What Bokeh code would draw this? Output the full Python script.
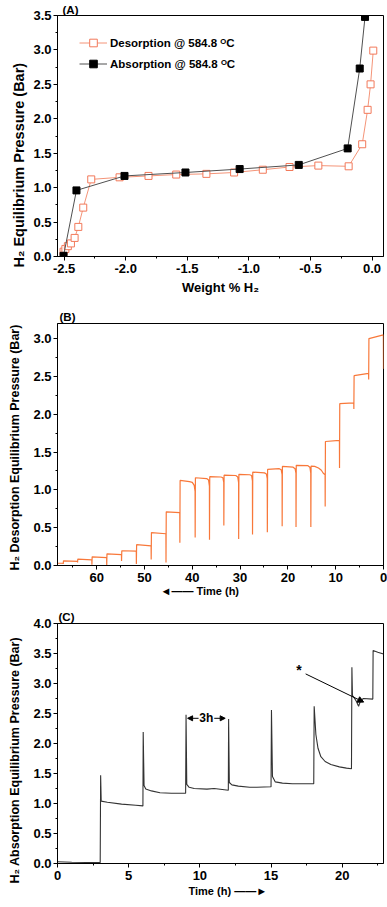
import math
from bokeh.plotting import figure
from bokeh.layouts import column
from bokeh.models import (Range1d, SingleIntervalTicker, NumeralTickFormatter,
                          Label, Arrow, NormalHead, Title)
from bokeh.embed import file_html
from bokeh.resources import INLINE

FONT = "Liberation Sans"

# ---------------- Panel A: PCT isotherms ----------------
wt_des = [-2.505, -2.49, -2.47, -2.445, -2.415, -2.385, -2.345, -2.28, -2.05, -1.815,
          -1.59, -1.345, -1.12, -0.887, -0.67, -0.436, -0.19, -0.08, -0.036, -0.012, 0.01]
p_des = [0.07, 0.11, 0.15, 0.19, 0.27, 0.43, 0.71, 1.12, 1.15, 1.17,
         1.19, 1.20, 1.22, 1.26, 1.30, 1.32, 1.31, 1.63, 2.13, 2.50, 2.99]
wt_abs = [-2.505, -2.40, -2.01, -1.515, -1.075, -0.595, -0.198, -0.10, -0.057]
p_abs = [0.01, 0.96, 1.17, 1.22, 1.27, 1.33, 1.57, 2.73, 3.48]

# ---------------- Panel B: desorption vs time ----------------
t_des = [0.00, 0.03, 3.05, 3.10, 3.12, 6.15, 6.20, 6.22, 9.15, 9.20, 9.22, 12.15,
         12.20, 12.22, 12.60, 13.00, 13.60, 14.40, 15.15,
         15.20, 15.22, 15.40, 15.80, 18.25,
         18.30, 18.32, 18.50, 18.90, 21.15,
         21.20, 21.22, 21.40, 21.80, 24.25,
         24.30, 24.32, 24.50, 24.90, 27.35,
         27.40, 27.42, 27.60, 28.00, 30.25,
         30.30, 30.32, 30.50, 30.90, 33.35,
         33.40, 33.42, 33.60, 34.00, 36.35,
         36.40, 36.42, 36.60, 37.00, 39.35,
         39.40, 39.42, 39.60, 40.00, 40.60, 42.55,
         42.60, 42.62, 45.45, 45.50, 45.52, 48.55, 48.60, 48.62, 51.65,
         51.70, 51.72, 54.75, 54.80, 54.82, 57.85, 57.90, 57.92, 60.95,
         61.00, 61.02, 63.95, 64.00, 64.02, 66.95, 67.00, 67.02, 68.20]
pr_des = [2.60, 3.05, 3.00, 2.46, 2.54, 2.51, 2.07, 2.15, 2.14, 1.29, 1.655, 1.64,
          0.78, 1.20, 1.22, 1.26, 1.29, 1.31, 1.315,
          0.51, 1.22, 1.30, 1.32, 1.325,
          0.51, 1.22, 1.28, 1.30, 1.31,
          0.52, 1.20, 1.265, 1.28, 1.27,
          0.44, 1.15, 1.21, 1.225, 1.235,
          0.41, 1.12, 1.19, 1.20, 1.205,
          0.35, 1.10, 1.17, 1.19, 1.195,
          0.53, 1.10, 1.16, 1.17, 1.175,
          0.34, 1.05, 1.13, 1.15, 1.16,
          0.37, 0.98, 1.06, 1.10, 1.11, 1.125,
          0.30, 0.70, 0.71, 0.04, 0.42, 0.435, 0.08, 0.26, 0.275,
          0.02, 0.19, 0.195, 0.06, 0.145, 0.155, 0.00, 0.105, 0.115,
          0.01, 0.075, 0.085, 0.04, 0.055, 0.062, 0.02, 0.03, 0.03]

# ---------------- Panel C: absorption vs time ----------------
t_abs = [0.0, 1.0, 3.0, 3.03, 3.07, 3.5, 4.5, 5.5, 6.0,
         6.02, 6.08, 6.2, 6.6, 7.2, 8.0, 9.0,
         9.03, 9.08, 9.25, 9.6, 10.5, 11.0, 12.0,
         12.02, 12.07, 12.25, 12.7, 13.5, 14.0, 15.0,
         15.03, 15.1, 15.3, 15.8, 16.5, 17.5, 18.0,
         18.03, 18.15, 18.3, 18.5, 18.8, 19.2, 19.8, 20.3, 20.65,
         20.68, 20.72, 20.85, 21.0, 21.15, 21.3, 21.5, 22.15,
         22.17, 22.5, 22.9]
pr_abs = [0.03, 0.02, 0.015, 1.47, 1.04, 1.02, 0.99, 0.97, 0.96,
          2.19, 1.30, 1.24, 1.21, 1.18, 1.17, 1.17,
          2.48, 1.32, 1.27, 1.25, 1.24, 1.25, 1.22,
          2.41, 1.35, 1.31, 1.29, 1.27, 1.27, 1.28,
          2.56, 1.45, 1.36, 1.34, 1.33, 1.33, 1.33,
          2.62, 2.15, 1.92, 1.78, 1.70, 1.65, 1.61, 1.59, 1.58,
          3.27, 2.80, 2.76, 2.70, 2.62, 2.72, 2.75, 2.74,
          3.55, 3.52, 3.49]

ORANGE_LINE = "#F49478"
ORANGE_MK = "#F2795A"
ORANGE_B = "#F8783A"
GRAY_C = "#333333"


def style(p, xint, yint, xfmt=None, yfmt="0.0"):
    p.xaxis.ticker = SingleIntervalTicker(interval=xint, num_minor_ticks=2)
    p.yaxis.ticker = SingleIntervalTicker(interval=yint, num_minor_ticks=2)
    if xfmt:
        p.xaxis.formatter = NumeralTickFormatter(format=xfmt)
    p.yaxis.formatter = NumeralTickFormatter(format=yfmt)
    for ax in (p.xaxis[0], p.yaxis[0]):
        ax.axis_line_width = 1
        ax.axis_line_color = "black"
        ax.major_tick_out = 4
        ax.major_tick_in = 0
        ax.minor_tick_out = 2
        ax.minor_tick_in = 0
        ax.major_tick_line_color = "black"
        ax.minor_tick_line_color = "black"
        ax.major_label_text_font = FONT
        ax.major_label_text_font_style = "bold"
        ax.major_label_text_font_size = "13px"
        ax.major_label_text_color = "black"
        ax.major_label_standoff = 3
        ax.axis_label_text_font = FONT
        ax.axis_label_text_font_style = "bold"
        ax.axis_label_text_font_size = "13px"
        ax.axis_label_text_color = "black"
        ax.axis_label_standoff = 4
    p.yaxis.major_label_standoff = 2
    p.xgrid.visible = False
    p.ygrid.visible = False
    p.outline_line_color = "black"
    p.outline_line_width = 1
    p.outline_line_alpha = 1
    p.background_fill_color = "white"
    p.border_fill_color = "white"


def txt(**kw):
    return dict(text_font=FONT, text_font_style="bold", text_color="black", **kw)


def panel_title(p, text, offset, standoff):
    p.title.text = text
    p.title.align = "left"
    p.title.offset = offset
    p.title.standoff = standoff
    p.title.vertical_align = "bottom"
    p.title.text_font = FONT
    p.title.text_font_style = "bold"
    p.title.text_font_size = "11.5px"
    p.title.text_color = "black"


def side_title(p, text, side, size, offset, standoff, valign="top"):
    p.add_layout(Title(text=text, align="left", offset=offset, standoff=standoff,
                       vertical_align=valign, **txt(text_font_size=size)), side)


def lab(p, text, x, y, size, **kw):
    kw.setdefault("text_align", "center")
    kw.setdefault("text_baseline", "middle")
    p.add_layout(Label(x=x, y=y, text=text, **txt(text_font_size=size), **kw))


def arrow(p, x0, y0, x1, y1, size=5):
    p.add_layout(Arrow(x_start=x0, y_start=y0, x_end=x1, y_end=y1, line_color="black",
                       line_width=1,
                       end=NormalHead(size=size, fill_color="black", line_color="black",
                                      line_width=1)))


W = 387
common = dict(width=W, output_backend="svg", toolbar_location=None,
              min_border_left=55, min_border_right=4)

# ---- A ----
pA = figure(height=305, x_range=Range1d(-2.554, 0.093), y_range=Range1d(0, 3.5),
            min_border_top=15, min_border_bottom=49, title="(A)", **common)
style(pA, 0.5, 0.5, xfmt="0.0")
panel_title(pA, "(A)", 5, 0)
pA.xaxis.axis_label = "Weight % H\u2082"
side_title(pA, "H\u2082 Equilibrium Pressure (Bar)", "left", "14.5px", -11, 4)
DES = "Desorption @ 584.8 \u1d3cC"
ABS = "Absorption @ 584.8 \u1d3cC"
pA.line(wt_des, p_des, line_color=ORANGE_LINE, line_width=1, legend_label=DES)
pA.scatter(wt_des, p_des, marker="square", size=7, fill_color="white",
           line_color=ORANGE_MK, line_width=1, legend_label=DES)
pA.line(wt_abs, p_abs, line_color="#505050", line_width=1, legend_label=ABS)
pA.scatter(wt_abs, p_abs, marker="square", size=7, fill_color="black",
           line_color="black", legend_label=ABS)
lg = pA.legend[0]
lg.location = (22, 183)
lg.margin = 0
lg.padding = 0
lg.spacing = 2
lg.label_height = 19
lg.glyph_height = 19
lg.glyph_width = 28
lg.label_standoff = 3
lg.border_line_alpha = 0
lg.background_fill_alpha = 0
lg.label_text_font = FONT
lg.label_text_font_style = "bold"
lg.label_text_font_size = "11.5px"
lg.label_text_color = "black"

# ---- B ----
pB = figure(height=300, x_range=Range1d(68.2, 0), y_range=Range1d(0, 3.2),
            min_border_top=18, min_border_bottom=40, title="(B)", **common)
style(pB, 10, 0.5)
panel_title(pB, "(B)", 2, 2)
side_title(pB, "H\u2082 Desorption Equilibrium Pressure (Bar)", "left", "12.5px", -5, 14)
side_title(pB, "\u25c4\u2014\u2014 Time (h)", "below", "11px", 103, 0)
pB.line(t_des, pr_des, line_color=ORANGE_B, line_width=1.2)

# ---- C ----
pC = figure(height=302, x_range=Range1d(0, 22.9), y_range=Range1d(0, 4.0),
            min_border_top=18, min_border_bottom=44, title="(C)", **common)
style(pC, 5, 0.5)
panel_title(pC, "(C)", 1, 2)
side_title(pC, "H\u2082 Absorption Equilibrium Pressure (Bar)", "left", "12.5px", -20, 14)
side_title(pC, "Time (h) \u2014\u2014\u25ba", "below", "11px", 131, 0, valign="bottom")
pC.line(t_abs, pr_abs, line_color=GRAY_C, line_width=1.1)
lab(pC, "3h", 10.45, 2.42, "12px")
arrow(pC, 9.91, 2.42, 9.14, 2.42, size=5)
arrow(pC, 11.01, 2.42, 11.78, 2.42, size=5)
lab(pC, "*", 16.96, 3.22, "14px")
arrow(pC, 17.43, 3.16, 21.51, 2.69, size=6)

layout = column(pA, pB, pC, spacing=0)
open("out.html", "w").write(file_html(layout, INLINE))
